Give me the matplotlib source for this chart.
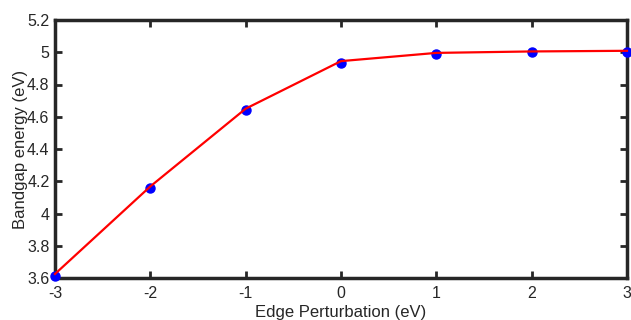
import matplotlib
matplotlib.use("Agg")
import matplotlib.pyplot as plt

perturbation = [-3, -2, -1, 0, 1, 2, 3]
bandgap = [3.615, 4.158, 4.642, 4.933, 4.992, 5.0, 5.002]
fit_line = [3.625, 4.168, 4.65, 4.945, 4.996, 5.005, 5.009]

xticks = [-3, -2, -1, 0, 1, 2, 3]
yticks = [3.6, 3.8, 4.0, 4.2, 4.4, 4.6, 4.8, 5.0, 5.2]
ytick_labels = ["3.6", "3.8", "4", "4.2", "4.4", "4.6", "4.8", "5", "5.2"]

plt.rcParams['font.family'] = ['Liberation Sans', 'DejaVu Sans']
fig = plt.figure(figsize=(6.31, 3.2), dpi=100)
ax = fig.add_axes([55/631, 1 - 278/320, (627-55)/631, (278-20)/320])

ax.plot(perturbation, bandgap, 'o', color='#0000ff', markersize=6.5, clip_on=False, zorder=3)
ax.plot(perturbation, fit_line, '-', color='#ff0000', linewidth=1.6, clip_on=False, zorder=4)

ax.set_xlim(-3, 3)
ax.set_ylim(3.6, 5.2)
ax.set_xticks(xticks)
ax.set_xticklabels([str(t) for t in xticks])
ax.set_yticks(yticks)
ax.set_yticklabels(ytick_labels)
ax.tick_params(direction='in', top=True, right=True, length=5, width=2, labelsize=11.5, colors='#262626')
ax.tick_params(axis='x', pad=6)
ax.tick_params(axis='y', pad=4)
for s in ax.spines.values():
    s.set_linewidth(2.5)
    s.set_color('#262626')
ax.set_xlabel('Edge Perturbation (eV)', fontsize=12, color='#262626', labelpad=3)
ax.set_ylabel('Bandgap energy (eV)', fontsize=12, color='#262626', labelpad=-1)

fig.savefig('out.png', dpi=100)
